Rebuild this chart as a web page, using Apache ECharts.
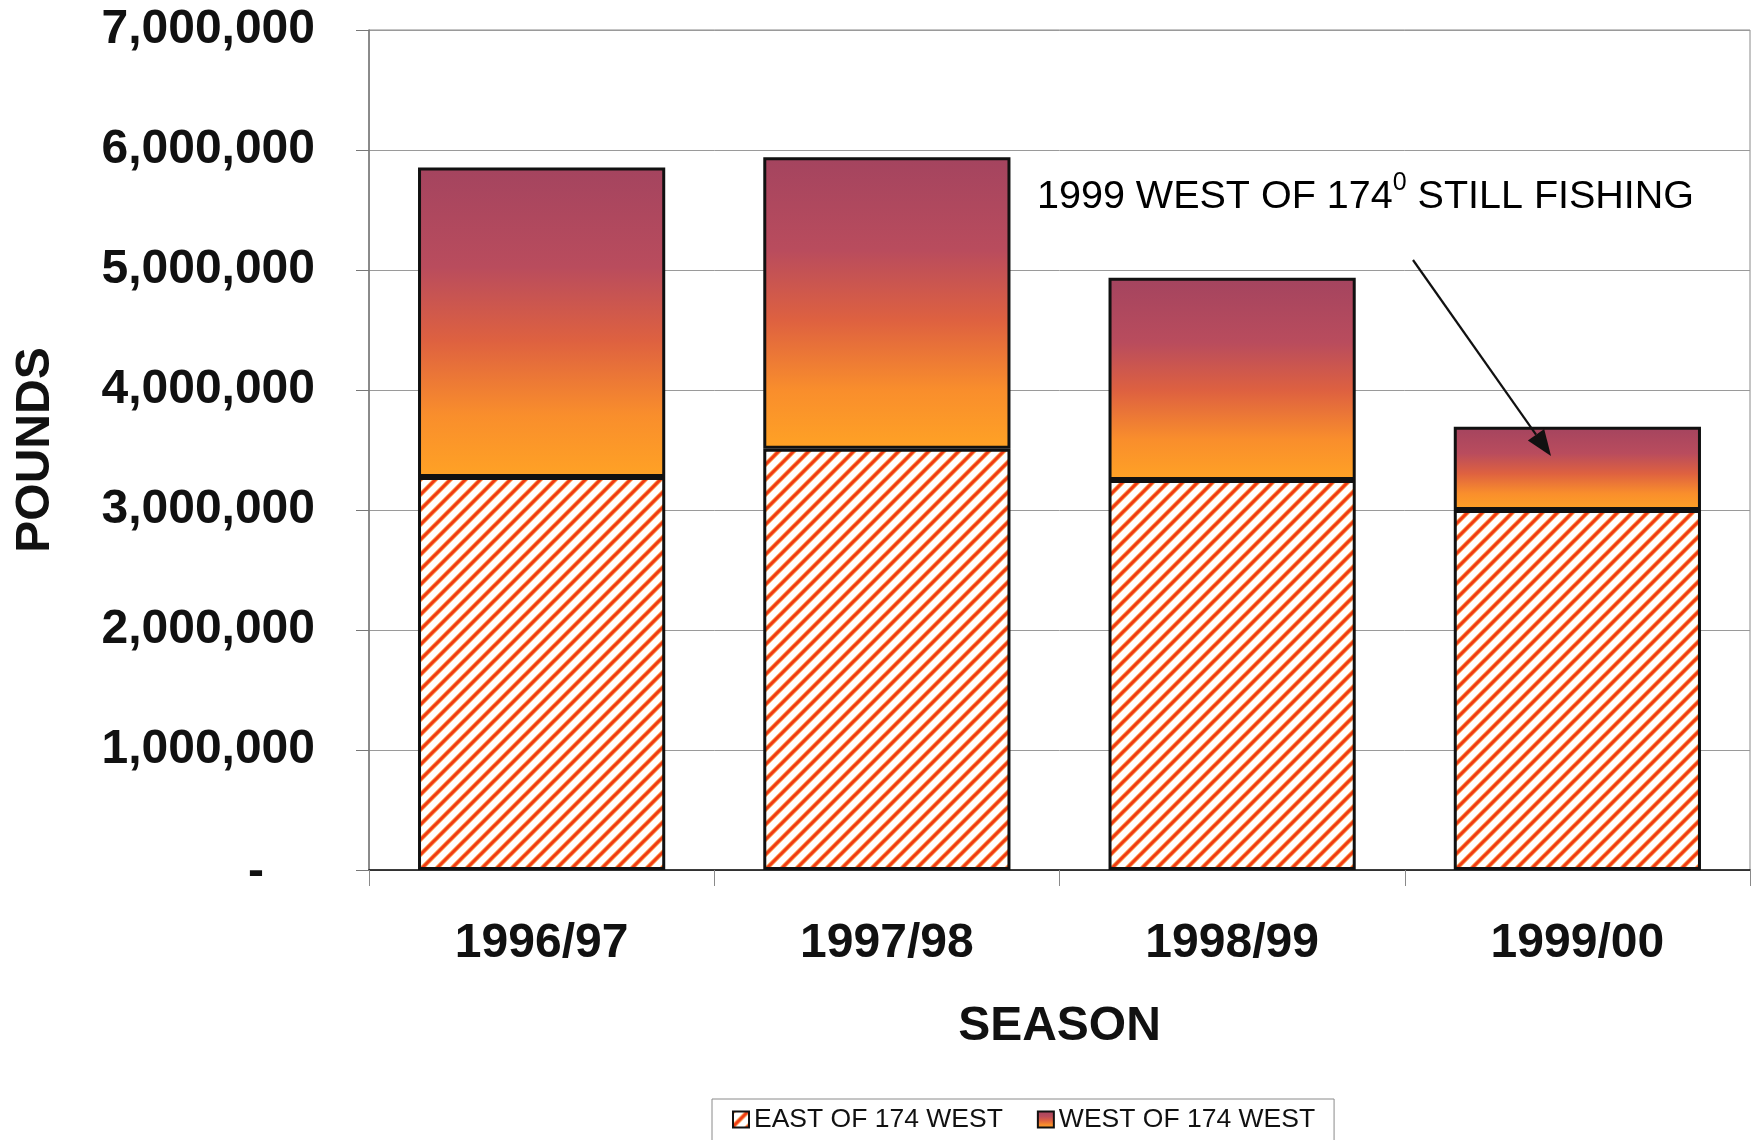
<!DOCTYPE html>
<html><head><meta charset="utf-8">
<script src="https://cdn.jsdelivr.net/npm/echarts@6/dist/echarts.min.js"></script>
<style>html,body{margin:0;padding:0;background:#fff}#c{width:1752px;height:1140px}</style>
</head><body><div id="c"></div>
<script>
const seasons = ['1996/97', '1997/98', '1998/99', '1999/00'];
const eastOf174 = [3275000, 3510000, 3250000, 3000000];
const westOf174 = [2580000, 2430000, 1685000, 694000];
const seriesNames = ['EAST OF 174 WEST', 'WEST OF 174 WEST'];
const yMax = 7000000;
const yStep = 1000000;

const FONT = '"Liberation Sans", Arial, sans-serif';

function hatchCanvas() {
  const s = 15;
  const c = document.createElement('canvas');
  c.width = s; c.height = s;
  const g = c.getContext('2d');
  g.fillStyle = '#ffffff'; g.fillRect(0, 0, s, s);
  const drawLines = () => {
    g.beginPath();
    g.moveTo(-s / 2, s / 2); g.lineTo(s / 2, -s / 2);
    g.moveTo(0, s); g.lineTo(s, 0);
    g.moveTo(s / 2, s * 1.5); g.lineTo(s * 1.5, s / 2);
    g.stroke();
  };
  g.strokeStyle = '#FFB060'; g.lineWidth = 4.6; drawLines();
  g.strokeStyle = '#F03C14'; g.lineWidth = 3; drawLines();
  return c;
}
const hatch = { image: hatchCanvas(), repeat: 'repeat' };
const westGrad = {
  type: 'linear', x: 0, y: 0, x2: 0, y2: 1,
  colorStops: [
    { offset: 0, color: '#A4445F' },
    { offset: 0.32, color: '#B94C5D' },
    { offset: 0.56, color: '#DE6140' },
    { offset: 0.8, color: '#F98E2C' },
    { offset: 1, color: '#FFA225' }
  ]
};

function fmt(v) {
  if (v === 0) return '{d|-}';
  return String(v).replace(/\B(?=(\d{3})+(?!\d))/g, ',');
}

// annotation arrow (pixel geometry of the callout)
const aStart = [1413, 260], aTip = [1551, 456];
const dx = aTip[0] - aStart[0], dy = aTip[1] - aStart[1];
const L = Math.hypot(dx, dy), ux = dx / L, uy = dy / L;
const headLen = 26, headHalf = 10;
const bx = aTip[0] - ux * headLen, by = aTip[1] - uy * headLen;
const headPts = [aTip, [bx - uy * headHalf, by + ux * headHalf], [bx + uy * headHalf, by - ux * headHalf]];

const chart = echarts.init(document.getElementById('c'), null, { renderer: 'canvas' });
chart.setOption({
  animation: false,
  backgroundColor: '#ffffff',
  grid: { left: 369, right: 2, top: 30, bottom: 270, show: true, borderColor: '#8a8a8a', borderWidth: 1, outerBoundsMode: 'none' },
  legend: {
    data: seriesNames,
    left: 712, top: 1099,
    padding: [7, 19, 30, 20],
    borderColor: '#8a8a8a', borderWidth: 1,
    itemWidth: 16, itemHeight: 16, itemGap: 34,
    icon: 'rect',
    textStyle: { fontFamily: FONT, fontSize: 26.5, color: '#111' }
  },
  xAxis: {
    type: 'category', data: seasons,
    axisLine: { show: true, lineStyle: { color: '#111', width: 1.5 } },
    axisTick: { show: true, length: 16, lineStyle: { color: '#8a8a8a' } },
    axisLabel: { margin: 50, fontFamily: FONT, fontSize: 48, fontWeight: 'bold', color: '#111' },
    name: 'SEASON', nameLocation: 'middle', nameGap: 133,
    nameTextStyle: { fontFamily: FONT, fontSize: 48, fontWeight: 'bold', color: '#111' }
  },
  yAxis: {
    type: 'value', min: 0, max: yMax, interval: yStep,
    axisLine: { show: true, lineStyle: { color: '#777', width: 1.5 } },
    axisTick: { show: true, length: 13, lineStyle: { color: '#777' } },
    splitLine: { show: true, lineStyle: { color: '#9a9a9a', width: 1 } },
    axisLabel: {
      margin: 54, fontFamily: FONT, fontSize: 48, fontWeight: 'bold', color: '#111',
      formatter: fmt,
      rich: { d: { fontFamily: FONT, fontSize: 48, fontWeight: 'bold', color: '#111', padding: [6, 51, 0, 0] } }
    },
    name: 'POUNDS', nameLocation: 'middle', nameGap: 309, nameRotate: 90,
    nameTextStyle: { fontFamily: FONT, fontSize: 48, fontWeight: 'bold', color: '#111' }
  },
  series: [
    {
      name: seriesNames[0], type: 'bar', stack: 'total', data: eastOf174,
      barCategoryGap: '28.4%',
      itemStyle: { color: hatch, borderColor: '#111', borderWidth: 3 }
    },
    {
      name: seriesNames[1], type: 'bar', stack: 'total', data: westOf174,
      itemStyle: { color: westGrad, borderColor: '#111', borderWidth: 3 }
    }
  ],
  graphic: [
    {
      type: 'text', left: 1037, top: 171, z: 100,
      style: {
        text: '{a|1999 WEST OF 174}{s|0}{a| STILL FISHING}',
        rich: {
          a: { fontFamily: FONT, fontSize: 39.5, color: '#111', lineHeight: 46, verticalAlign: 'bottom' },
          s: { fontFamily: FONT, fontSize: 25, color: '#111', lineHeight: 46, verticalAlign: 'top', padding: [0, 0, 14, 0] }
        }
      }
    },
    { type: 'line', z: 100, shape: { x1: aStart[0], y1: aStart[1], x2: bx, y2: by }, style: { stroke: '#111', lineWidth: 2.2 } },
    { type: 'polygon', z: 100, shape: { points: headPts }, style: { fill: '#111' } }
  ]
});
</script></body></html>
